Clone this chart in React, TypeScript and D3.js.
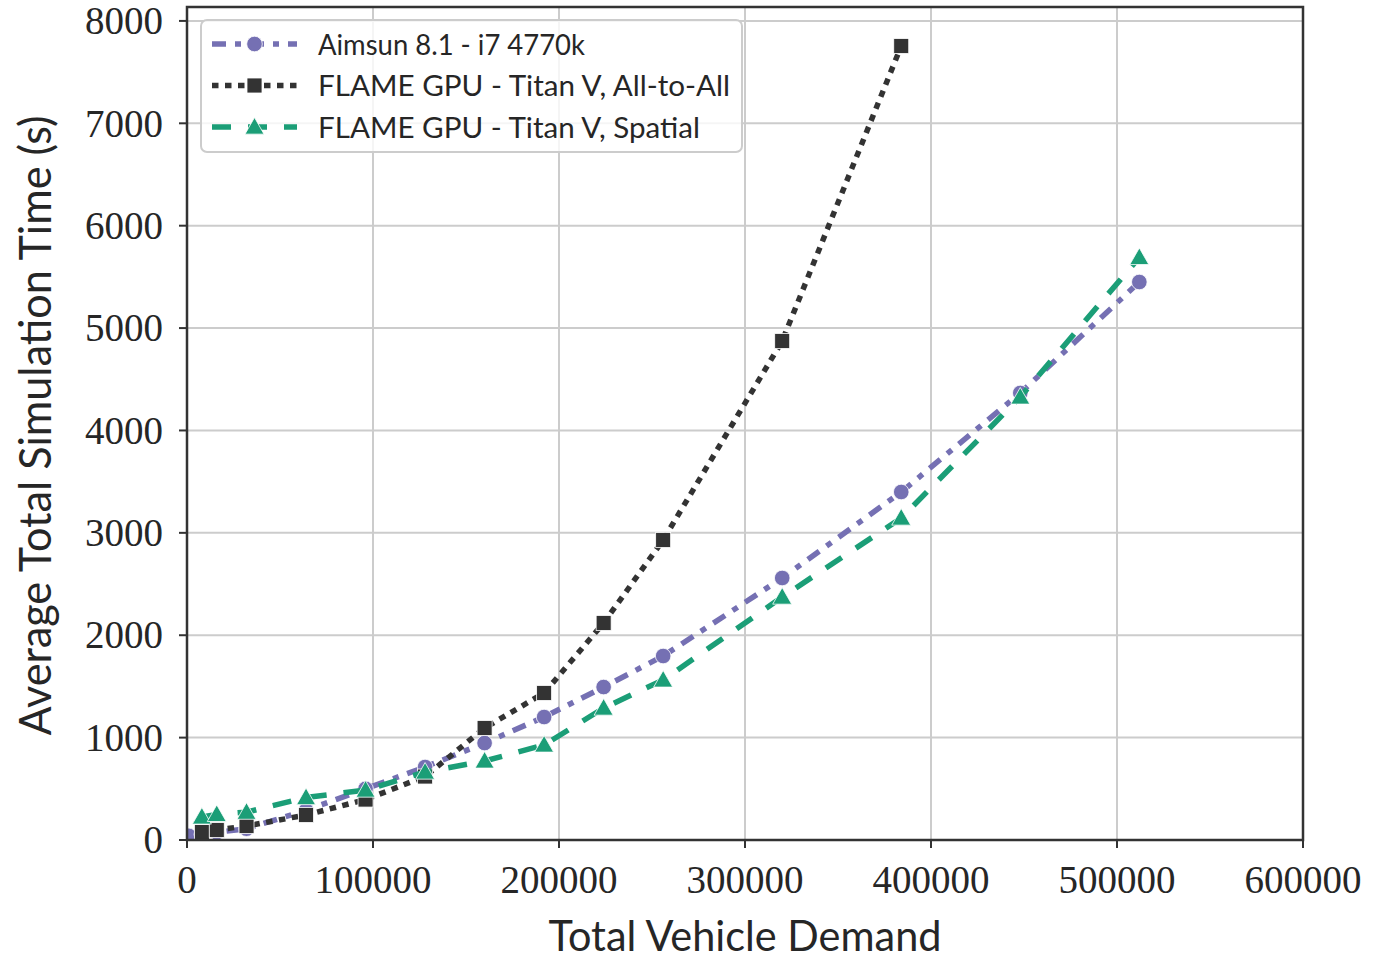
import React from 'react';
import * as d3 from 'd3';

// x values (total vehicle demand)
const aimsunDemand = [1000, 8000, 16000, 32000, 64000, 96000, 128000, 160000, 192000, 224000, 256000, 320000, 384000, 448000, 512000];
const aimsunTime = [40, 55, 75, 110, 290, 500, 713, 947, 1201, 1494, 1797, 2559, 3399, 4366, 5450];

const allToAllDemand = [8000, 16000, 32000, 64000, 96000, 128000, 160000, 192000, 224000, 256000, 320000, 384000];
const allToAllTime = [78, 98, 137, 244, 395, 620, 1094, 1436, 2120, 2930, 4874, 7755];

const spatialDemand = [8000, 16000, 32000, 64000, 96000, 128000, 160000, 192000, 224000, 256000, 320000, 384000, 448000, 512000];
const spatialTime = [225, 250, 272, 415, 488, 664, 772, 928, 1289, 1563, 2373, 3145, 4327, 5690];

const seriesNames = ['Aimsun 8.1 - i7 4770k', 'FLAME GPU - Titan V, All-to-All', 'FLAME GPU - Titan V, Spatial'];

const xTicks = [0, 100000, 200000, 300000, 400000, 500000, 600000];
const yTicks = [0, 1000, 2000, 3000, 4000, 5000, 6000, 7000, 8000];

const width = 1386;
const height = 961;
const margin = { top: 7, right: 83, bottom: 121, left: 187 };

const styles = [
  { color: '#7570b3', dash: '14,9,6,9', marker: 'circle', legendLen: 267 },
  { color: '#333333', dash: '6.5,6.5', marker: 'square', legendLen: 412 },
  { color: '#1b9e77', dash: '19,17', marker: 'triangle', legendLen: 382 },
];

const Marker = ({ type, x, y, color }) => {
  if (type === 'circle') return <circle cx={x} cy={y} r={7.8} fill={color} stroke="#fff" strokeWidth={0.8} />;
  if (type === 'square') return <rect x={x - 7.5} y={y - 7.5} width={15} height={15} fill={color} stroke="#fff" strokeWidth={0.8} />;
  const s = 9.5;
  return (
    <path
      d={`M${x},${y - s} L${x + s},${y + s * 0.75} L${x - s},${y + s * 0.75} Z`}
      fill={color}
      stroke="#fff"
      strokeWidth={0.8}
    />
  );
};

const App = () => {
  const x = d3.scaleLinear().domain([0, 600000]).range([margin.left, width - margin.right]);
  const y = d3.scaleLinear().domain([0, 8136]).range([height - margin.bottom, margin.top]);

  const series = [
    d3.zip(aimsunDemand, aimsunTime),
    d3.zip(allToAllDemand, allToAllTime),
    d3.zip(spatialDemand, spatialTime),
  ];

  const line = d3.line().x(d => x(d[0])).y(d => y(d[1]));

  const x0 = margin.left;
  const x1 = width - margin.right;
  const y0 = height - margin.bottom;
  const y1 = margin.top;

  const serif = '"Liberation Serif", "DejaVu Serif", serif';
  const sans = 'Lato, "Open Sans", sans-serif';

  return (
    <div style={{ position: 'absolute', left: 0, top: 0 }}>
      <svg width={width} height={height} style={{ display: 'block', background: '#fff' }}>
        <defs>
          <clipPath id="plot-clip">
            <rect x={x0} y={y1} width={x1 - x0} height={y0 - y1} />
          </clipPath>
        </defs>

        {/* grid */}
        {xTicks.map(t => (
          <line key={'gx' + t} x1={x(t)} x2={x(t)} y1={y1} y2={y0} stroke="#cccccc" strokeWidth={2} />
        ))}
        {yTicks.map(t => (
          <line key={'gy' + t} x1={x0} x2={x1} y1={y(t)} y2={y(t)} stroke="#cccccc" strokeWidth={2} />
        ))}

        {/* series */}
        <g clipPath="url(#plot-clip)">
          {series.map((pts, i) => (
            <g key={'s' + i}>
              <path
                d={line(pts)}
                fill="none"
                stroke={styles[i].color}
                strokeWidth={5.5}
                strokeDasharray={styles[i].dash}
              />
              {pts.map((p, j) => (
                <Marker key={j} type={styles[i].marker} x={x(p[0])} y={y(p[1])} color={styles[i].color} />
              ))}
            </g>
          ))}
        </g>

        {/* spines */}
        <rect x={x0} y={y1} width={x1 - x0} height={y0 - y1} fill="none" stroke="#333333" strokeWidth={2.5} />

        {/* ticks */}
        {xTicks.map(t => (
          <g key={'xt' + t}>
            <line x1={x(t)} x2={x(t)} y1={y0} y2={y0 + 8} stroke="#333333" strokeWidth={2} />
            <text x={x(t)} y={893} textAnchor="middle" fontFamily={serif} fontSize={39} fill="#262626">
              {t}
            </text>
          </g>
        ))}
        {yTicks.map(t => (
          <g key={'yt' + t}>
            <line x1={x0 - 8} x2={x0} y1={y(t)} y2={y(t)} stroke="#333333" strokeWidth={2} />
            <text x={163} y={y(t)} dy="0.34em" textAnchor="end" fontFamily={serif} fontSize={39} fill="#262626">
              {t}
            </text>
          </g>
        ))}

        {/* axis labels */}
        <text
          x={(x0 + x1) / 2}
          y={951}
          textAnchor="middle"
          fontFamily={sans}
          fontSize={42}
          fill="#262626"
          textLength={393}
          lengthAdjust="spacingAndGlyphs"
        >
          Total Vehicle Demand
        </text>
        <text
          transform={`translate(51, ${(y0 + y1) / 2 + 2}) rotate(-90)`}
          textAnchor="middle"
          fontFamily={sans}
          fontSize={45}
          fill="#262626"
          textLength={620}
          lengthAdjust="spacingAndGlyphs"
        >
          Average Total Simulation Time (s)
        </text>

        {/* legend */}
        <rect x={201} y={20} width={541} height={132} rx={6} fill="#ffffff" fillOpacity={0.8} stroke="#cccccc" strokeWidth={2} />
        {seriesNames.map((name, i) => {
          const ry = 44 + i * 41.5;
          return (
            <g key={'lg' + i}>
              <line x1={212} x2={297} y1={ry} y2={ry} stroke={styles[i].color} strokeWidth={5.5} strokeDasharray={styles[i].dash} />
              <Marker type={styles[i].marker} x={254.5} y={ry} color={styles[i].color} />
              <text
                x={318}
                y={ry + 10.5}
                fontFamily={sans}
                fontSize={29}
                fill="#262626"
                textLength={styles[i].legendLen}
                lengthAdjust="spacingAndGlyphs"
              >
                {name}
              </text>
            </g>
          );
        })}
      </svg>
    </div>
  );
};

export default App;
